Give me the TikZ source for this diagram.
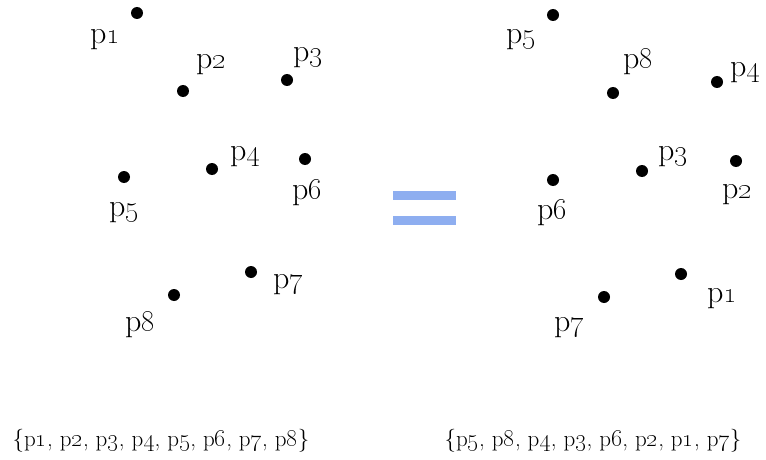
\documentclass[tikz,border=0pt]{standalone}
\usetikzlibrary{positioning}
\definecolor{eqblue}{HTML}{8EAEF0}
\newcommand{\pt}[1]{p\oldstylenums{#1}}
\tikzset{
  dot/.style={circle,fill=black,inner sep=0pt,minimum size=12pt},
  lbl/.style={inner sep=0pt,font=\fontsize{32}{34}\selectfont},
  setlbl/.style={inner sep=0pt,font=\fontsize{23}{26}\selectfont},
  bar/.style={fill=eqblue,draw=none}
}
\begin{document}
\begin{tikzpicture}[x=1pt,y=-1pt]
\useasboundingbox (0,0) rectangle (766,460);
% left arrangement
\node[dot] (a1) at (137,13) {};  \node[lbl] (la1) at (105,40) {\pt1};
\node[dot] (a2) at (183,91) {};  \node[lbl] (la2) at (211,65) {\pt2};
\node[dot] (a3) at (287,80) {};  \node[lbl] (la3) at (308,58) {\pt3};
\node[dot] (a4) at (212,169) {}; \node[lbl] (la4) at (245,157) {\pt4};
\node[dot] (a5) at (124,177) {}; \node[lbl] (la5) at (124,213) {\pt5};
\node[dot] (a6) at (305,159) {}; \node[lbl] (la6) at (307,193) {\pt6};
\node[dot] (a7) at (251,272) {}; \node[lbl] (la7) at (288,285) {\pt7};
\node[dot] (a8) at (174,295) {}; \node[lbl] (la8) at (140,325) {\pt8};
% right arrangement
\node[dot] (b5) at (553,15) {};  \node[lbl] (lb5) at (521,40) {\pt5};
\node[dot] (b8) at (613,93) {};  \node[lbl] (lb8) at (638,62) {\pt8};
\node[dot] (b4) at (717,82) {};  \node[lbl] (lb4) at (745,73) {\pt4};
\node[dot] (b3) at (642,171) {}; \node[lbl] (lb3) at (673,157) {\pt3};
\node[dot] (b6) at (553,180) {}; \node[lbl] (lb6) at (552,213) {\pt6};
\node[dot] (b2) at (736,161) {}; \node[lbl] (lb2) at (737,195) {\pt2};
\node[dot] (b1) at (681,274) {}; \node[lbl] (lb1) at (722,299) {\pt1};
\node[dot] (b7) at (604,297) {}; \node[lbl] (lb7) at (569,328) {\pt7};
% equals sign
\fill[bar] (393,191) rectangle (456,200);
\fill[bar] (393,216) rectangle (456,225);
% set notation
\node[setlbl] (setA) at (161,441) {\{\pt1, \pt2, \pt3, \pt4, \pt5, \pt6, \pt7, \pt8\}};
\node[setlbl] (setB) at (593,441) {\{\pt5, \pt8, \pt4, \pt3, \pt6, \pt2, \pt1, \pt7\}};
\end{tikzpicture}
\end{document}
